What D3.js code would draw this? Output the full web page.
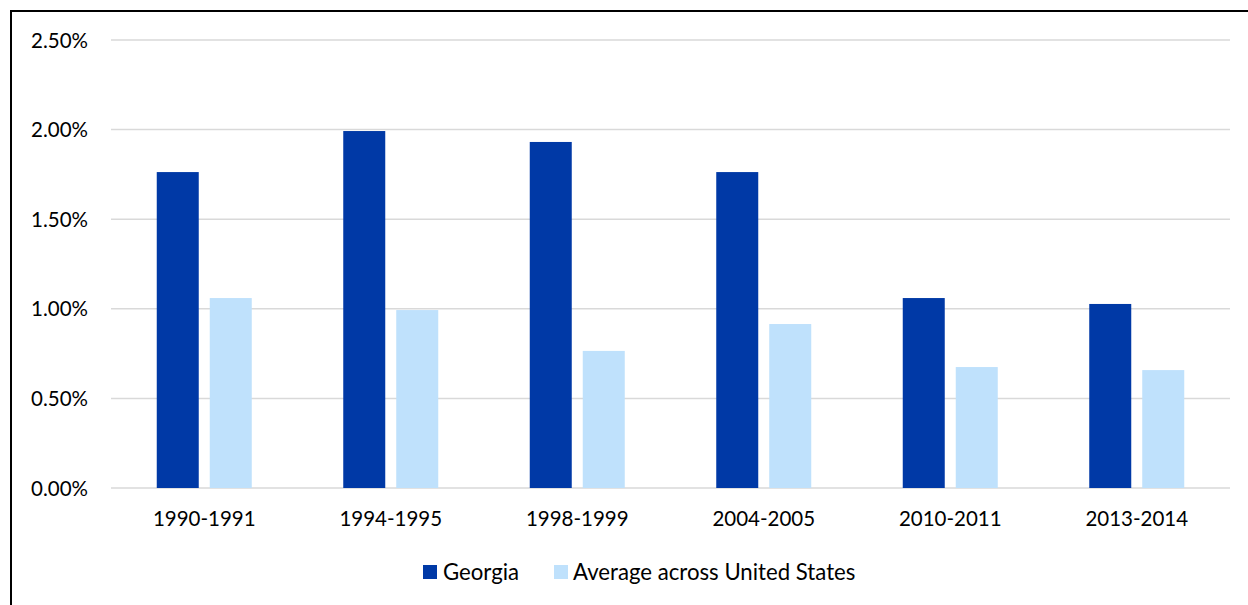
<!DOCTYPE html>
<html><head><meta charset="utf-8">
<script src="https://cdn.jsdelivr.net/npm/d3@7"></script>
<style>
html,body{margin:0;padding:0;background:#fff;}
svg{display:block;}
text{font-family:Lato,"Open Sans",sans-serif;fill:#000;}
</style></head>
<body>
<svg id="chart" width="1248" height="605"></svg>
<script>
const categories = ["1990-1991","1994-1995","1998-1999","2004-2005","2010-2011","2013-2014"];
const seriesNames = ["Georgia","Average across United States"];
const georgia = [1.763, 1.992, 1.931, 1.763, 1.060, 1.027];
const usAverage = [1.060, 0.993, 0.765, 0.915, 0.675, 0.658];
const yTicks = [0, 0.5, 1.0, 1.5, 2.0, 2.5];
const colors = ["#0039A6", "#BFE1FC"];

const svg = d3.select("#chart");
const W = 1248, H = 605;
const plot = {left:111, right:1230, top:40, bottom:488};

// frame border
svg.append("rect").attr("x",11).attr("y",11).attr("width",W).attr("height",H)
  .attr("fill","none").attr("stroke","#000").attr("stroke-width",2);

const x = d3.scaleBand().domain(categories).range([plot.left, plot.right]).padding(0);
const y = d3.scaleLinear().domain([0, 2.5]).range([plot.bottom, plot.top]);

// gridlines
svg.append("g").selectAll("line").data(yTicks).join("line")
  .attr("x1",plot.left).attr("x2",plot.right)
  .attr("y1",d=>y(d)).attr("y2",d=>y(d))
  .attr("stroke","#D9D9D9").attr("stroke-width",1.5);

// y axis labels
const yAxis = d3.axisLeft(y).tickValues(yTicks).tickFormat(d=>d.toFixed(2)+"%").tickSize(0).tickPadding(0);
const ya = svg.append("g").attr("transform","translate(88,0)").call(yAxis);
ya.select(".domain").remove();
ya.selectAll("text").attr("font-family","Lato,'Open Sans',sans-serif").attr("font-size",20.5).attr("fill","#000").attr("dy","0.35em");

// x axis labels
const xAxis = d3.axisBottom(x).tickSize(0).tickPadding(0);
const xa = svg.append("g").attr("transform",`translate(0,${plot.bottom+31})`).call(xAxis);
xa.select(".domain").remove();
xa.selectAll("text").attr("font-family","Lato,'Open Sans',sans-serif").attr("font-size",20.5).attr("fill","#000").attr("dy","0.35em");

// bars
const bw = x.bandwidth();
const barW = bw*0.2252, gap = bw*0.059;
const inner = d3.scaleBand().domain([0,1]).range([bw/2 - barW - gap/2, bw/2 + barW + gap/2]).paddingInner(gap/(barW+gap)).paddingOuter(0);
const series = [georgia, usAverage];
series.forEach((vals, si) => {
  svg.append("g").selectAll("rect").data(vals).join("rect")
    .attr("x",(d,i)=>x(categories[i]) + inner(si))
    .attr("width",inner.bandwidth())
    .attr("y",d=>y(d))
    .attr("height",d=>y(0)-y(d))
    .attr("fill",colors[si]);
});

// legend
const leg = svg.append("g");
const legItems = [{x:423, tx:443},{x:554, tx:573}];
seriesNames.forEach((n,i)=>{
  leg.append("rect").attr("x",legItems[i].x).attr("y",565).attr("width",14).attr("height",14).attr("fill",colors[i]);
  leg.append("text").attr("x",legItems[i].tx).attr("y",572).attr("dy","0.35em")
    .attr("font-size",22.2).text(n);
});
</script>
</body></html>
